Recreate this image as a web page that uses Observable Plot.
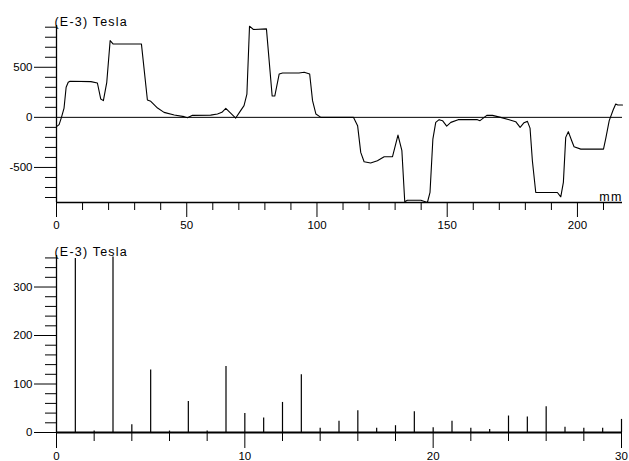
<!DOCTYPE html>
<html>
<head>
<meta charset="utf-8">
<script src="https://cdn.jsdelivr.net/npm/d3@7"></script>
<script src="https://cdn.jsdelivr.net/npm/@observablehq/plot@0.6"></script>
<style>
  html, body { margin: 0; padding: 0; background: #fff; }
  #chart svg { display: block; }
  #chart [aria-label="text"] text { letter-spacing: 1.2px; }
</style>
</head>
<body>
<div id="chart"></div>
<script>
// ---- Top chart: field profile along the axis ----
const profileMm = [0, 1.0, 1.9, 2.9, 3.7, 4.5, 5.2, 13.2, 15.7, 17.0, 18.0, 19.3, 20.6, 21.7, 32.6, 34.9, 36.2, 38.8, 41.3, 45.2, 49.0, 50.3, 52.2, 59.2, 61.8, 63.5, 65.0, 68.8, 70.5, 72.0, 73.1, 74.1, 75.6, 80.6, 82.8, 83.8, 85.5, 86.8, 93.1, 95.1, 97.2, 98.3, 99.6, 101.5, 114.0, 115.6, 116.8, 118.1, 120.6, 123.2, 125.8, 129.0, 131.1, 132.6, 133.7, 134.7, 139.9, 142.4, 143.4, 144.5, 145.6, 146.9, 148.2, 149.8, 151.4, 154.2, 161.6, 162.6, 165.2, 167.4, 170.5, 173.8, 176.3, 178.0, 179.5, 180.8, 181.8, 182.7, 184.0, 192.3, 193.6, 194.6, 195.5, 196.5, 197.8, 198.7, 201.3, 210.0, 210.9, 212.2, 213.7, 214.7, 215.5, 217.3];
const profileB = [-93, -73, 0, 93, 300, 350, 360, 357, 343, 183, 167, 350, 767, 733, 733, 173, 160, 93, 50, 23, 7, -3, 20, 22, 33, 50, 90, -7, 60, 117, 233, 910, 877, 883, 213, 213, 433, 443, 443, 450, 433, 167, 33, 0, 0, -83, -350, -443, -455, -433, -393, -393, -177, -333, -843, -827, -827, -850, -750, -217, -50, -23, -33, -87, -50, -23, -23, -33, 20, 20, 0, -23, -43, -100, -53, -40, -107, -433, -750, -750, -793, -650, -200, -143, -233, -293, -317, -317, -207, -33, 73, 133, 123, 123];
const topXMajor = [0, 50, 100, 150, 200];
const topXMinor = [10, 20, 30, 40, 60, 70, 80, 90, 110, 120, 130, 140, 160, 170, 180, 190, 210];
const topYMajor = [-500, 0, 500];
const topYMinor = [-800, -700, -600, -400, -300, -200, -100, 100, 200, 300, 400, 600, 700, 800, 900];

// ---- Bottom chart: harmonic amplitudes ----
const harmonicN = [1, 2, 3, 4, 5, 6, 7, 8, 9, 10, 11, 12, 13, 14, 15, 16, 17, 18, 19, 20, 21, 22, 23, 24, 25, 26, 27, 28, 29, 30];
const harmonicB = [359, 3, 362, 16, 129, 3, 64, 3, 136, 39, 30, 62, 119, 9, 23, 45, 9, 14, 43, 10, 23, 9, 6, 34, 32, 53, 11, 9, 9, 27];
const botXMajor = [0, 10, 20, 30];
const botXMinor = [2, 4, 6, 8, 12, 14, 16, 18, 22, 24, 26, 28];
const botYMajor = [0, 100, 200, 300];
const botYMinor = [20, 40, 60, 80, 120, 140, 160, 180, 220, 240, 260, 280, 320, 340, 360];

const unitLabel = "(E-3) Tesla";
const xUnitLabel = "mm";

const profile = profileMm.map((m, i) => ({mm: m, b: profileB[i]}));
const harmonics = harmonicN.map((n, i) => ({n, b: harmonicB[i]}));

const font = {fontFamily: "'Liberation Sans', Arial, sans-serif", fontSize: "11.5px", color: "black", background: "white", overflow: "visible"};

const topChart = Plot.plot({
  width: 629, height: 230,
  marginLeft: 56, marginRight: 7, marginTop: 25, marginBottom: 28,
  style: font,
  x: {domain: [0, 217.3]},
  y: {domain: [-850, 917]},
  marks: [
    Plot.ruleY([0], {stroke: "black", strokeWidth: 1}),
    Plot.ruleY([-850], {stroke: "black", strokeWidth: 1.3}),
    Plot.ruleX([0], {stroke: "black", strokeWidth: 1.3}),
    Plot.line(profile, {x: "mm", y: "b", stroke: "black", strokeWidth: 1.1}),
    Plot.axisY(topYMajor, {tickSize: 22, tickPadding: 2, label: null, stroke: "black", fontSize: 11.5, tickFormat: d => String(d)}),
    Plot.axisY(topYMinor, {tickSize: 11, label: null, stroke: "black", tickFormat: () => ""}),
    Plot.axisX(topXMajor, {tickSize: 15, tickPadding: 3, label: null, stroke: "black", fontSize: 11.5, tickFormat: d => String(d)}),
    Plot.axisX(topXMinor, {tickSize: 8, label: null, stroke: "black", tickFormat: () => ""}),
    Plot.text([unitLabel], {frameAnchor: "top-left", textAnchor: "start", lineAnchor: "bottom", dx: -2, dy: 0, fill: "black", fontSize: 12.5}),
    Plot.text([xUnitLabel], {frameAnchor: "bottom-right", textAnchor: "end", lineAnchor: "bottom", dx: 0, dy: -2, fill: "black", fontSize: 12.5})
  ]
});

const bottomChart = Plot.plot({
  width: 629, height: 231,
  marginLeft: 56, marginRight: 8, marginTop: 25, marginBottom: 29,
  style: font,
  x: {domain: [0, 30]},
  y: {domain: [0, 365]},
  marks: [
    Plot.ruleX(harmonics, {x: "n", y1: 0, y2: "b", stroke: "black", strokeWidth: 1.2}),
    Plot.ruleY([0], {stroke: "black", strokeWidth: 2}),
    Plot.ruleX([0], {stroke: "black", strokeWidth: 1.3}),
    Plot.axisY(botYMajor, {tickSize: 22, tickPadding: 2, label: null, stroke: "black", fontSize: 11.5, tickFormat: d => String(d)}),
    Plot.axisY(botYMinor, {tickSize: 11, label: null, stroke: "black", tickFormat: () => ""}),
    Plot.axisX(botXMajor, {tickSize: 16, tickPadding: 3, label: null, stroke: "black", fontSize: 11.5, tickFormat: d => String(d)}),
    Plot.axisX(botXMinor, {tickSize: 9, label: null, stroke: "black", tickFormat: () => ""}),
    Plot.text([unitLabel], {frameAnchor: "top-left", textAnchor: "start", lineAnchor: "bottom", dx: -2, dy: 0, fill: "black", fontSize: 12.5})
  ]
});

const root = document.getElementById("chart");
root.appendChild(topChart);
root.appendChild(bottomChart);
</script>
</body>
</html>
